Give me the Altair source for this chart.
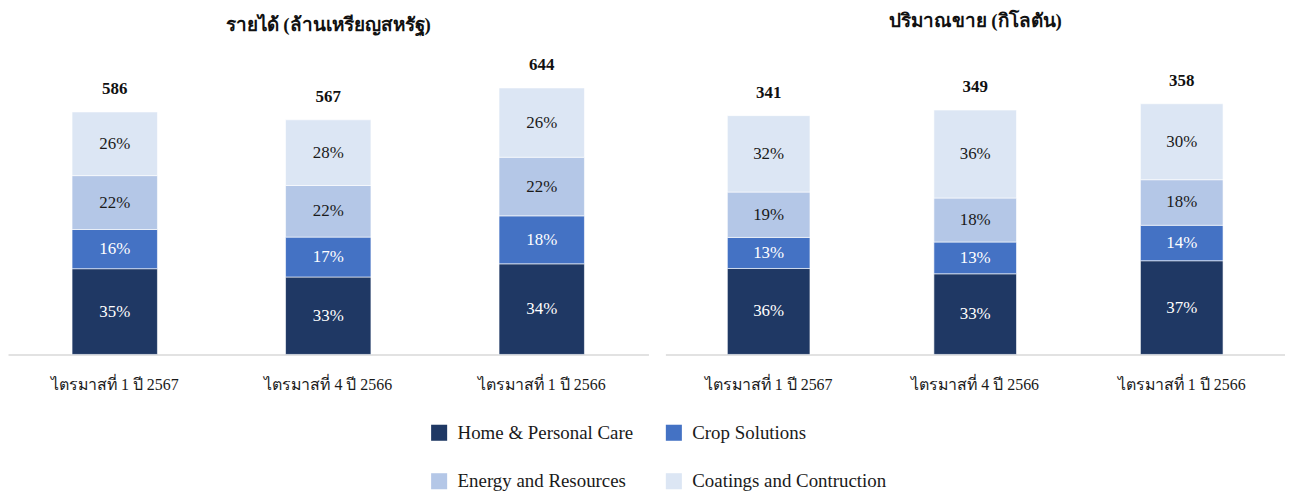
import altair as alt
import pandas as pd

quarters = ["ไตรมาสที่ 1 ปี 2567", "ไตรมาสที่ 4 ปี 2566", "ไตรมาสที่ 1 ปี 2566"]
segments = ["Home & Personal Care", "Crop Solutions", "Energy and Resources", "Coatings and Contruction"]
colors = ["#1F3864", "#4472C4", "#B4C7E7", "#DCE6F4"]
label_colors = ["#FFFFFF", "#FFFFFF", "#1A1A1A", "#1A1A1A"]

revenue_total = [586, 567, 644]
revenue_hpc = [35, 33, 34]
revenue_crop = [16, 17, 18]
revenue_energy = [22, 22, 22]
revenue_coat = [26, 28, 26]

volume_total = [341, 349, 358]
volume_hpc = [36, 33, 37]
volume_crop = [13, 13, 14]
volume_energy = [19, 18, 18]
volume_coat = [32, 36, 30]

FONT = "Liberation Serif"


def build(totals, pcts):
    rows = []
    for qi, q in enumerate(quarters):
        s = sum(p[qi] for p in pcts)
        for si, seg in enumerate(segments):
            rows.append({
                "quarter": q,
                "segment": seg,
                "order": si,
                "pct": pcts[si][qi],
                "value": totals[qi] * pcts[si][qi] / s,
                "tc": label_colors[si],
            })
    seg_df = pd.DataFrame(rows)
    tot_df = pd.DataFrame({"quarter": quarters, "total": totals})
    return seg_df, tot_df


def panel(title, totals, pcts, ymax, width, title_offset):
    seg_df, tot_df = build(totals, pcts)
    x = alt.X("quarter:N", sort=quarters,
              scale=alt.Scale(paddingInner=0.6, paddingOuter=0.3),
              axis=alt.Axis(title=None, labelAngle=0, ticks=False, labelPadding=22,
                            labelFont=FONT, labelFontSize=16, labelColor="#1A1A1A",
                            domainColor="#D9D9D9", domainWidth=1.5))
    yscale = alt.Scale(domain=[0, ymax], nice=False)
    base = alt.Chart(seg_df)
    bars = base.mark_bar(stroke="#FFFFFF", strokeWidth=0.6).encode(
        x=x,
        y=alt.Y("value:Q", stack="zero", scale=yscale, axis=None),
        color=alt.Color("segment:N", sort=segments,
                        scale=alt.Scale(domain=segments, range=colors),
                        legend=alt.Legend(title=None, orient="none", columns=2,
                                          direction="horizontal",
                                          legendX=424, legendY=364,
                                          symbolType="square", symbolSize=260,
                                          symbolStrokeWidth=0, labelFont=FONT,
                                          labelFontSize=19, labelColor="#1A1A1A",
                                          labelOffset=9, columnPadding=31,
                                          rowPadding=29, labelLimit=400)),
        order=alt.Order("order:Q", sort="ascending"),
    )
    texts = base.transform_stack(
        stack="value", groupby=["quarter"], as_=["v0", "v1"],
        sort=[alt.SortField("order", "ascending")]
    ).transform_calculate(
        mid="(datum.v0 + datum.v1) / 2",
        label="datum.pct + '%'",
    ).mark_text(font=FONT, fontSize=17, baseline="middle").encode(
        x=alt.X("quarter:N", sort=quarters),
        y=alt.Y("mid:Q", scale=yscale, axis=None),
        text="label:N",
        color=alt.Color("tc:N", scale=None, legend=None),
    )
    tot = alt.Chart(tot_df).mark_text(font=FONT, fontSize=17, fontWeight="bold",
                                      baseline="middle", dy=-23, color="#111111").encode(
        x=alt.X("quarter:N", sort=quarters),
        y=alt.Y("total:Q", scale=yscale, axis=None),
        text="total:Q",
    )
    return alt.layer(bars, texts, tot).properties(
        width=width, height=295,
        title=alt.TitleParams(title, font=FONT, fontSize=19, fontWeight="bold",
                              color="#111111", offset=title_offset, anchor="middle"),
    )


left = panel("รายได้ (ล้านเหรียญสหรัฐ)", revenue_total,
             [revenue_hpc, revenue_crop, revenue_energy, revenue_coat], 709, 644, 21)
right = panel("ปริมาณขาย (กิโลตัน)", volume_total,
              [volume_hpc, volume_crop, volume_energy, volume_coat], 419, 623, 30)

chart = alt.hconcat(left, right, spacing=17).resolve_scale(
    y="independent", color="shared"
).properties(
    padding={"top": 3, "left": 0, "right": 0, "bottom": 0}, background="#FFFFFF"
).configure_view(strokeWidth=0)

chart.save("out.html", embed_options={"renderer": "svg", "actions": False})
